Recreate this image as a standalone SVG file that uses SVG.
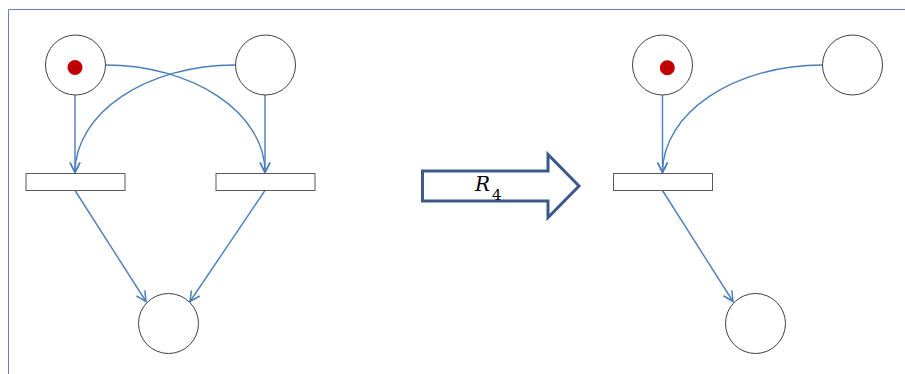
<svg xmlns="http://www.w3.org/2000/svg" width="905" height="374" viewBox="0 0 905 374">
<style>
.place{fill:#fff;stroke:#404040;stroke-width:1}
.token{fill:#c00000}
.trans{fill:#fff;stroke:#595959;stroke-width:1}
.arc{fill:none;stroke:#4a7ebb;stroke-width:1.4}
.mathR{font-family:"DejaVu Serif","Liberation Serif",serif;font-style:italic;font-size:20px;fill:#000}
.math4{font-family:"DejaVu Serif","Liberation Serif",serif;font-style:normal;font-size:15px;fill:#000}
</style>
<defs>
<marker id="ah" markerUnits="userSpaceOnUse" markerWidth="14" markerHeight="14" refX="11" refY="6" orient="auto" viewBox="0 0 14 12">
<path d="M1,1 L11,6 L1,11" fill="none" stroke="#4a7ebb" stroke-width="1.5"/>
</marker>
</defs>
<rect x="0" y="0" width="905" height="374" fill="#fff"/>
<path d="M8.5,374 V9.5 H905" fill="none" stroke="#6b7fb5" stroke-width="1"/>
<g id="connectors">
<path class="arc" d="M75,95 V172.5" marker-end="url(#ah)"/>
<path class="arc" d="M265,95 V172.5" marker-end="url(#ah)"/>
<path class="arc" d="M235,65 C146.6,65 75,112.9 75,172.5" marker-end="url(#ah)"/>
<path class="arc" d="M105,65 C193.4,65 265,112.9 265,172.5" marker-end="url(#ah)"/>
<path class="arc" d="M75,190.5 L146,301.5" marker-end="url(#ah)"/>
<path class="arc" d="M265,190.5 L190,301.5" marker-end="url(#ah)"/>
<path class="arc" d="M662.5,95 V172.5" marker-end="url(#ah)"/>
<path class="arc" d="M822.5,65 C734.1,65 662.5,112.9 662.5,172.5" marker-end="url(#ah)"/>
<path class="arc" d="M662.5,190.5 L733,301.5" marker-end="url(#ah)"/>
</g>
<g id="p1"><circle class="place" cx="75.5" cy="65" r="30"/><circle class="token" cx="75" cy="67.5" r="7.5"/></g>
<g id="p2"><circle class="place" cx="265.5" cy="65" r="30"/></g>
<g id="t1"><rect class="trans" x="26" y="173.5" width="99" height="17"/></g>
<g id="t2"><rect class="trans" x="216" y="173.5" width="99" height="17"/></g>
<g id="p3"><circle class="place" cx="168.5" cy="323.5" r="30"/></g>
<g id="rule">
<polygon points="422.5,171 548,171 548,154.5 579,186 548,217.5 548,201 422.5,201" fill="#fff" stroke="#3b5a8a" stroke-width="3"/>
<text class="mathR" x="475" y="191">R</text>
<text class="math4" x="492" y="200">4</text>
</g>
<g id="q1"><circle class="place" cx="662.5" cy="65" r="30"/><circle class="token" cx="667.3" cy="67.7" r="7.5"/></g>
<g id="q2"><circle class="place" cx="852.5" cy="65" r="30"/></g>
<g id="u1"><rect class="trans" x="613.5" y="173.5" width="99" height="17"/></g>
<g id="q3"><circle class="place" cx="755.5" cy="323.5" r="30"/></g>
</svg>
